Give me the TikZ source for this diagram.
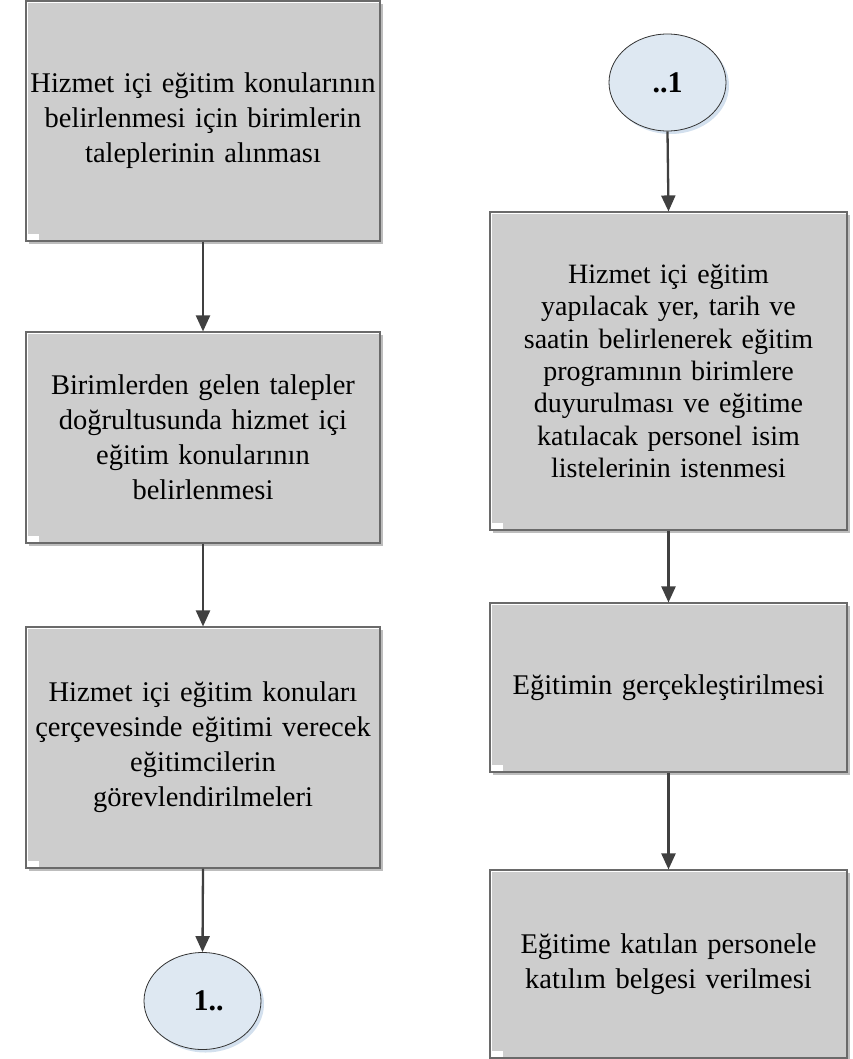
\documentclass[tikz,border=0pt]{standalone}
\usepackage{fontspec}
\setmainfont{Liberation Serif}
\usetikzlibrary{arrows.meta,shapes.geometric,shadows}

\definecolor{boxfill}{HTML}{CDCDCD}
\definecolor{boxline}{HTML}{6A6A6A}
\definecolor{shadowgray}{HTML}{BDBDBD}
\definecolor{arrowgray}{HTML}{404040}
\definecolor{termfill}{HTML}{DEE8F2}
\definecolor{termshadow}{HTML}{D3E0EE}

\tikzset{
  stepbox/.style={rectangle, draw=boxline, line width=1.1pt, fill=boxfill,
    inner sep=0pt, align=center,
    font=\fontsize{28.5}{35}\selectfont,
    drop shadow={shadow xshift=3pt, shadow yshift=-3pt, fill=shadowgray, opacity=1},
    path picture={
      \draw[white, line width=4pt]
        (path picture bounding box.south west) -- (path picture bounding box.north west)
        -- (path picture bounding box.north east);
      \fill[white] (path picture bounding box.south west) rectangle ++(13pt,7pt);
    }},
  leftbox/.style={stepbox, minimum width=354pt, text width=352pt},
  rightbox/.style={stepbox, minimum width=357pt, text width=352pt},
  connector/.style={draw=black!80, line width=0.8pt, fill=termfill,
    ellipse, minimum width=117pt, minimum height=97pt, inner sep=0pt,
    font=\bfseries\fontsize{30}{32}\selectfont,
    drop shadow={shadow xshift=3pt, shadow yshift=-3pt, fill=termshadow, opacity=1}},
  flow/.style={draw=arrowgray, line width=2.3pt, -{Triangle[width=14pt,length=16pt]}}
}

\begin{document}
\begin{tikzpicture}[x=1pt,y=-1pt]
\useasboundingbox (0,0) rectangle (853,1059);

% left column
\node[leftbox, minimum height=240pt] (l1) at (203,121)
  {Hizmet içi eğitim konularının\\belirlenmesi için birimlerin\\taleplerinin alınması};
\node[leftbox, minimum height=211pt] (l2) at (203,437.5)
  {Birimlerden gelen talepler\\doğrultusunda hizmet içi\\eğitim konularının\\belirlenmesi};
\node[leftbox, minimum height=241pt] (l3) at (203,747.5)
  {Hizmet içi eğitim konuları\\çerçevesinde eğitimi verecek\\eğitimcilerin\\görevlendirilmeleri};
\node[connector] (c1) at (202.5,1001) {\hspace{12pt}1..};

% right column
\node[connector] (c2) at (667.5,82.5) {..1\hspace{18pt}};
\node[rightbox, minimum height=318pt, font=\fontsize{28}{32.3}\selectfont] (r1) at (668.5,371)
  {Hizmet içi eğitim\\yapılacak yer, tarih ve\\saatin belirlenerek eğitim\\programının birimlere\\duyurulması ve eğitime\\katılacak personel isim\\listelerinin istenmesi};
\node[rightbox, minimum height=169pt] (r2) at (668.5,687.5)
  {Eğitimin gerçekleştirilmesi};
\node[rightbox, minimum height=188pt] (r3) at (668.5,964)
  {Eğitime katılan personele\\katılım belgesi verilmesi};

% connectors
\draw[flow] (l1) -- (l2);
\draw[flow] (l2) -- (l3);
\draw[flow] (l3.south) -- (c1.north);
\draw[flow] (c2.south) -- (r1.north);
\draw[flow] (r1) -- (r2);
\draw[flow] (r2) -- (r3);
\end{tikzpicture}
\end{document}
